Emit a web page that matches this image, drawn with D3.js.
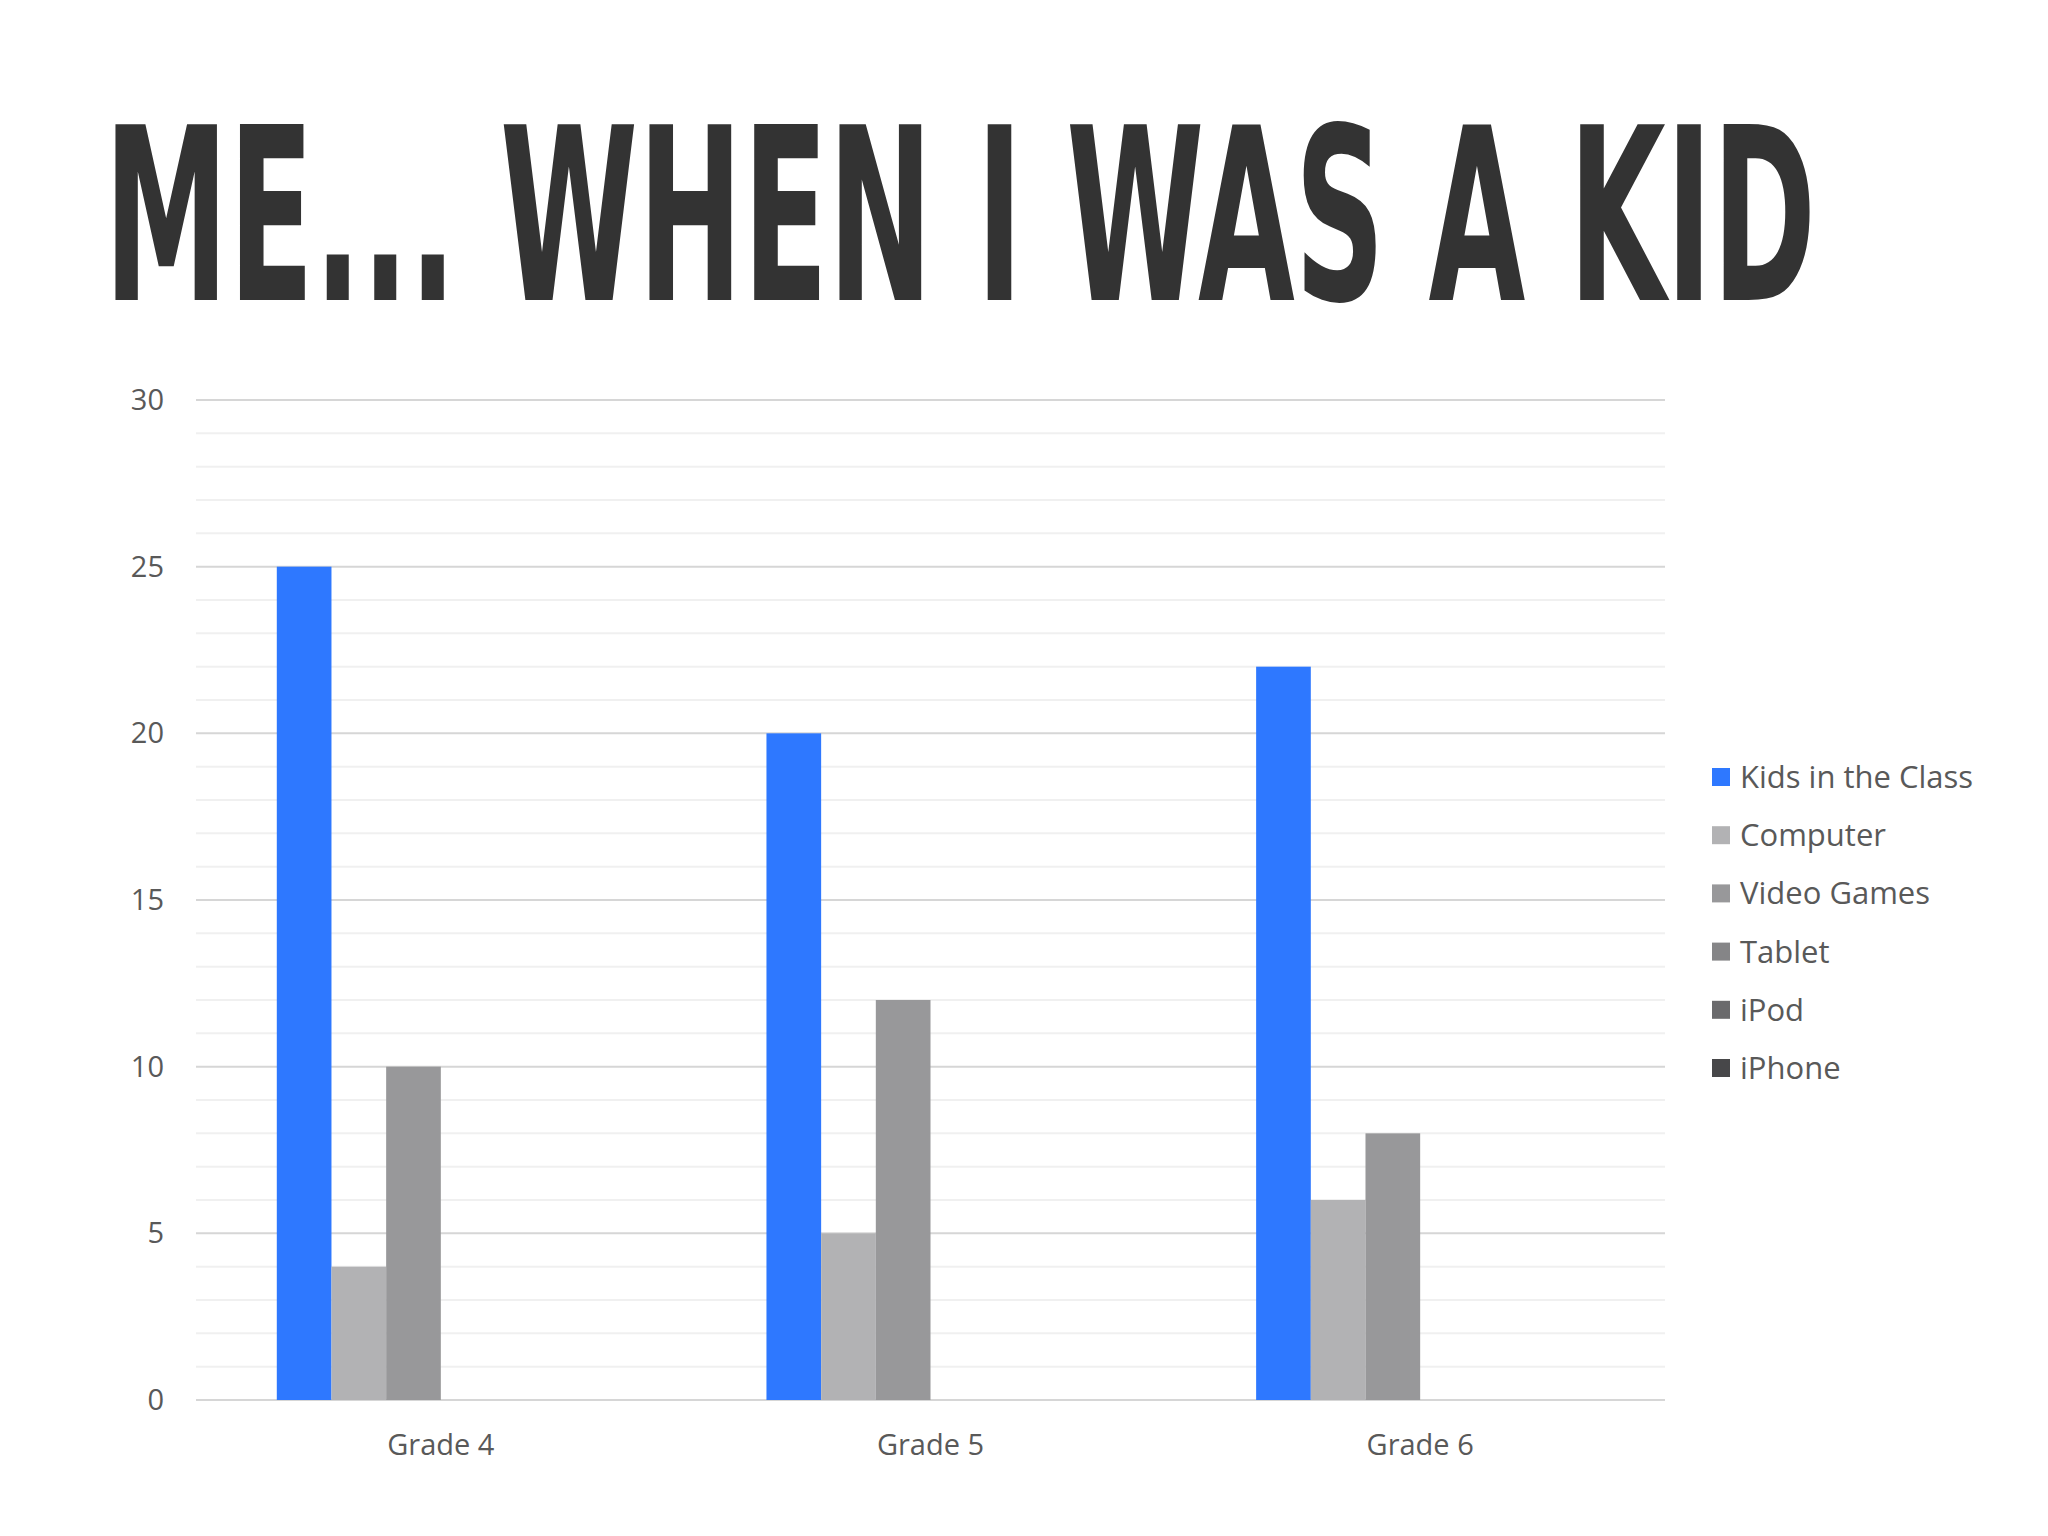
<!DOCTYPE html>
<html>
<head>
<meta charset="utf-8">
<script src="https://cdn.jsdelivr.net/npm/d3@7"></script>
<style>
  body { margin: 0; background: #fff; }
  svg { display: block; }
</style>
</head>
<body>
<svg width="2048" height="1536"></svg>
<script>
const grades = ["Grade 4", "Grade 5", "Grade 6"];
const seriesNames = ["Kids in the Class", "Computer", "Video Games", "Tablet", "iPod", "iPhone"];
const kids = [25, 20, 22];
const computer = [4, 5, 6];
const videoGames = [10, 12, 8];
const tablet = [0, 0, 0];
const ipod = [0, 0, 0];
const iphone = [0, 0, 0];
const yTicks = [0, 5, 10, 15, 20, 25, 30];

const seriesValues = [kids, computer, videoGames, tablet, ipod, iphone];
const colors = ["#2e78ff", "#b2b2b4", "#98989a", "#858587", "#6a6a6c", "#474749"];

const svg = d3.select("svg");

// title
svg.append("text")
    .attr("x", 104).attr("y", 300)
    .attr("textLength", 1712).attr("lengthAdjust", "spacingAndGlyphs")
    .style("font-family", "'Liberation Sans Narrow', 'DejaVu Sans Condensed', sans-serif")
    .style("font-weight", "bold")
    .style("font-size", "240px")
    .style("fill", "#333")
    .text("ME... WHEN I WAS A KID");

const plotLeft = 196, plotRight = 1665, plotTop = 400, plotBottom = 1400;

const y = d3.scaleLinear().domain([0, 30]).range([plotBottom, plotTop]);
const x0 = d3.scaleBand().domain(grades).range([plotLeft, plotRight]).paddingInner(0.33).paddingOuter(0.165);
const x1 = d3.scaleBand().domain(seriesNames).range([0, x0.bandwidth()]);

// gridlines, light every unit, darker every 5
svg.append("g").selectAll("line")
    .data(d3.range(0, 31))
    .join("line")
    .attr("x1", plotLeft).attr("x2", plotRight)
    .attr("y1", d => y(d)).attr("y2", d => y(d))
    .attr("stroke", d => d % 5 === 0 ? "#d6d6d6" : "#f0f0f0")
    .attr("stroke-width", 2);

// y ticks
svg.append("g").selectAll("text")
    .data(yTicks)
    .join("text")
    .attr("x", 164).attr("y", d => y(d) + 10)
    .attr("text-anchor", "end")
    .style("font-family", "'Open Sans', sans-serif")
    .style("font-size", "29px")
    .style("fill", "#595959")
    .text(d => d);

// bars
const groups = svg.append("g").selectAll("g")
    .data(grades)
    .join("g")
    .attr("transform", d => `translate(${x0(d)},0)`);

groups.selectAll("rect")
    .data((g, gi) => seriesNames.map((s, si) => ({ s, si, v: seriesValues[si][gi] })))
    .join("rect")
    .attr("x", d => x1(d.s))
    .attr("width", x1.bandwidth())
    .attr("y", d => y(d.v))
    .attr("height", d => plotBottom - y(d.v))
    .attr("fill", d => colors[d.si]);

// x labels
svg.append("g").selectAll("text")
    .data(grades)
    .join("text")
    .attr("x", d => x0(d) + x0.bandwidth() / 2)
    .attr("y", 1455)
    .attr("text-anchor", "middle")
    .style("font-family", "'Open Sans', sans-serif")
    .style("font-size", "29px")
    .style("fill", "#595959")
    .text(d => d);

// legend
const legend = svg.append("g").selectAll("g")
    .data(seriesNames)
    .join("g")
    .attr("transform", (d, i) => `translate(1712,${777 + i * 58.2})`);
legend.append("rect")
    .attr("x", 0).attr("y", -9).attr("width", 18).attr("height", 18)
    .attr("fill", (d, i) => colors[i]);
legend.append("text")
    .attr("x", 28).attr("y", 11)
    .style("font-family", "'Open Sans', sans-serif")
    .style("font-size", "31px")
    .style("fill", "#595959")
    .text(d => d);
</script>
</body>
</html>
